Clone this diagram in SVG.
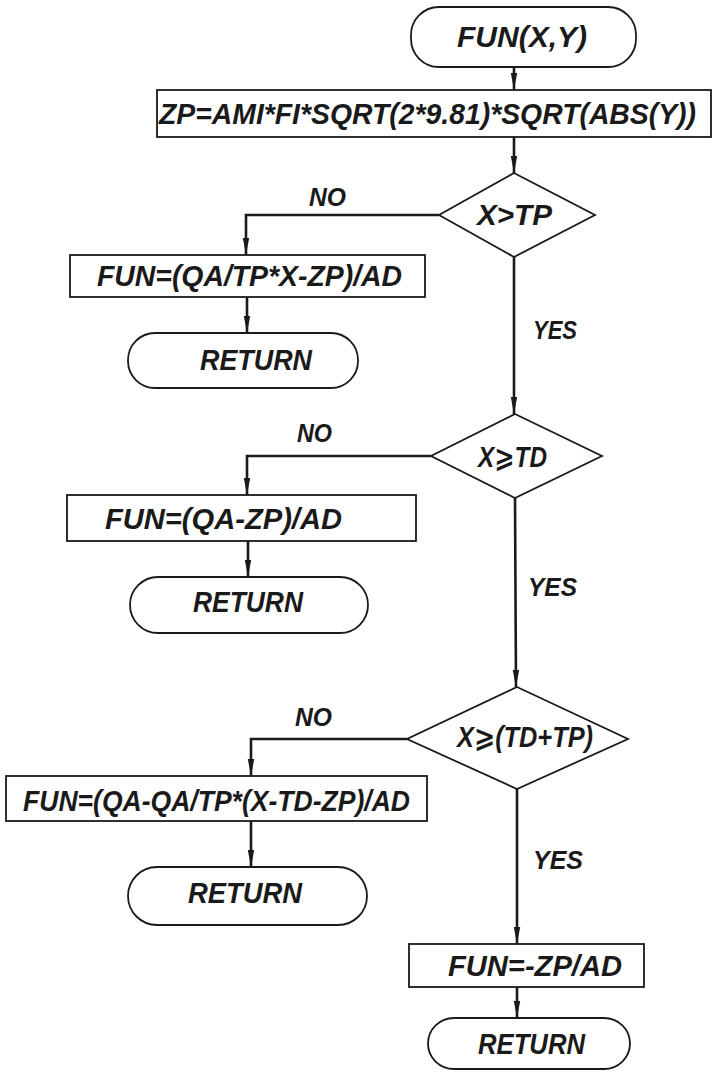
<svg xmlns="http://www.w3.org/2000/svg" width="713" height="1072" viewBox="0 0 713 1072">
<style>
  .shape { fill: #ffffff; stroke: #1a1a1a; stroke-width: 1.8; }
  .conn { fill: none; stroke: #1a1a1a; stroke-width: 2.6; }
  .t { font-family: "Liberation Sans", "DejaVu Sans", sans-serif; font-style: italic; font-weight: bold; font-size: 29px; fill: #1a1a1a; text-anchor: start; }
  .lbl { font-family: "Liberation Sans", "DejaVu Sans", sans-serif; font-style: italic; font-weight: bold; font-size: 25px; fill: #1a1a1a; }
</style>
<defs>
  <marker id="arr" markerUnits="userSpaceOnUse" markerWidth="18" markerHeight="8" refX="17" refY="4" orient="auto">
    <path d="M0,0.8 L17,4 L0,7.2 z" fill="#1a1a1a"/>
  </marker>
</defs>
<rect width="713" height="1072" fill="#ffffff"/>

<g id="connectors">
  <line class="conn" x1="514" y1="67" x2="514" y2="90" marker-end="url(#arr)"/>
  <line class="conn" x1="514" y1="137" x2="514" y2="173" marker-end="url(#arr)"/>
  <polyline class="conn" points="439,215 246,215 246,255" marker-end="url(#arr)"/>
  <line class="conn" x1="247" y1="297" x2="247" y2="333" marker-end="url(#arr)"/>
  <line class="conn" x1="514" y1="257" x2="514" y2="414" marker-end="url(#arr)"/>
  <polyline class="conn" points="431,456 247,456 247,495" marker-end="url(#arr)"/>
  <line class="conn" x1="248" y1="541" x2="248" y2="577" marker-end="url(#arr)"/>
  <line class="conn" x1="515" y1="498" x2="516" y2="687" marker-end="url(#arr)"/>
  <polyline class="conn" points="407,739 251,739 251,776" marker-end="url(#arr)"/>
  <line class="conn" x1="251" y1="821" x2="251" y2="867" marker-end="url(#arr)"/>
  <line class="conn" x1="517" y1="789" x2="517" y2="944" marker-end="url(#arr)"/>
  <line class="conn" x1="517" y1="987" x2="517" y2="1018" marker-end="url(#arr)"/>
  <text class="lbl" x="309" y="206" textLength="37" lengthAdjust="spacingAndGlyphs">NO</text>
  <text class="lbl" x="533" y="339" textLength="44" lengthAdjust="spacingAndGlyphs">YES</text>
  <text class="lbl" x="297" y="442" textLength="35" lengthAdjust="spacingAndGlyphs">NO</text>
  <text class="lbl" x="528" y="596" textLength="49" lengthAdjust="spacingAndGlyphs">YES</text>
  <text class="lbl" x="295" y="726" textLength="37" lengthAdjust="spacingAndGlyphs">NO</text>
  <text class="lbl" x="533" y="869" textLength="50" lengthAdjust="spacingAndGlyphs">YES</text>
</g>

<g id="start">
  <rect class="shape" x="411" y="7" width="225" height="60" rx="28" ry="28"/>
  <text class="t" x="457" y="47" textLength="130" lengthAdjust="spacingAndGlyphs">FUN(X,Y)</text>
</g>

<g id="calc-zp">
  <rect class="shape" x="157" y="90" width="554" height="47"/>
  <text class="t" x="159" y="124" textLength="537" lengthAdjust="spacingAndGlyphs">ZP=AMI*FI*SQRT(2*9.81)*SQRT(ABS(Y))</text>
</g>

<g id="dec1">
  <polygon class="shape" points="514,173 595,215 514,257 439,215"/>
  <text class="t" x="477" y="225" textLength="75" lengthAdjust="spacingAndGlyphs">X&gt;TP</text>
</g>

<g id="fun1">
  <rect class="shape" x="70" y="255" width="355" height="42"/>
  <text class="t" x="97" y="286" textLength="305" lengthAdjust="spacingAndGlyphs">FUN=(QA/TP*X-ZP)/AD</text>
</g>

<g id="return1">
  <rect class="shape" x="128" y="333" width="230" height="55" rx="27" ry="27"/>
  <text class="t" x="200" y="370" textLength="112" lengthAdjust="spacingAndGlyphs">RETURN</text>
</g>

<g id="dec2">
  <polygon class="shape" points="515,414 602,456 515,498 431,456"/>
  <text class="t" x="478" y="467" textLength="69" lengthAdjust="spacingAndGlyphs">X⩾TD</text>
</g>

<g id="fun2">
  <rect class="shape" x="67" y="495" width="349" height="46"/>
  <text class="t" x="105" y="529" textLength="237" lengthAdjust="spacingAndGlyphs">FUN=(QA-ZP)/AD</text>
</g>

<g id="return2">
  <rect class="shape" x="130" y="577" width="238" height="56" rx="28" ry="28"/>
  <text class="t" x="193" y="612" textLength="110" lengthAdjust="spacingAndGlyphs">RETURN</text>
</g>

<g id="dec3">
  <polygon class="shape" points="517,687 628,739 517,789 407,739"/>
  <text class="t" x="457" y="747" textLength="136" lengthAdjust="spacingAndGlyphs">X⩾(TD+TP)</text>
</g>

<g id="fun3">
  <rect class="shape" x="6" y="776" width="421" height="45"/>
  <text class="t" x="23" y="811" textLength="387" lengthAdjust="spacingAndGlyphs">FUN=(QA-QA/TP*(X-TD-ZP)/AD</text>
</g>

<g id="return3">
  <rect class="shape" x="128" y="867" width="239" height="58" rx="29" ry="29"/>
  <text class="t" x="188" y="903" textLength="114" lengthAdjust="spacingAndGlyphs">RETURN</text>
</g>

<g id="fun4">
  <rect class="shape" x="409" y="944" width="235" height="43"/>
  <text class="t" x="448" y="976" textLength="174" lengthAdjust="spacingAndGlyphs">FUN=-ZP/AD</text>
</g>

<g id="return4">
  <rect class="shape" x="428" y="1018" width="202" height="51" rx="26" ry="26"/>
  <text class="t" x="478" y="1054" textLength="107" lengthAdjust="spacingAndGlyphs">RETURN</text>
</g>
</svg>
